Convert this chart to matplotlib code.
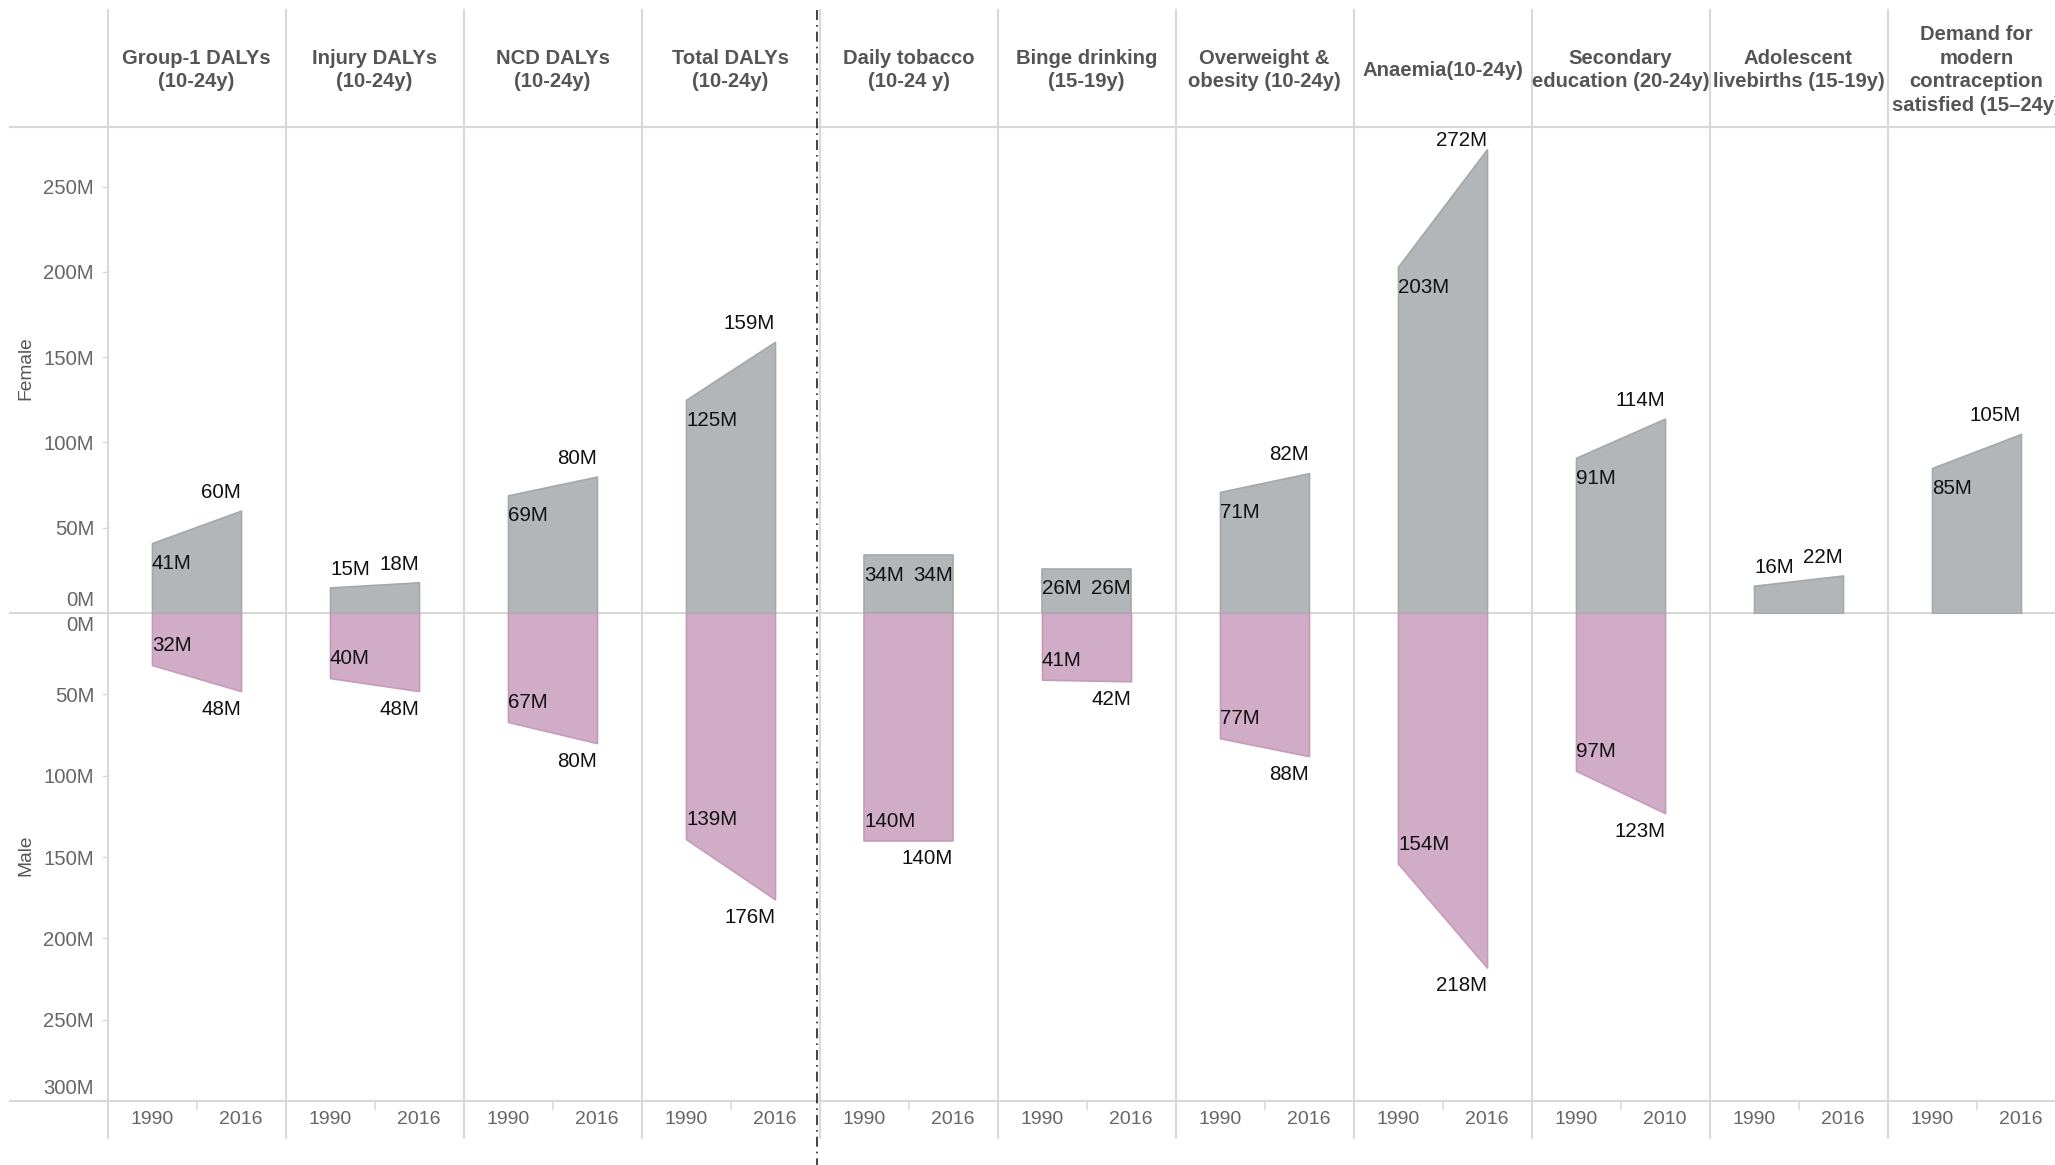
import matplotlib
matplotlib.use("Agg")
import matplotlib.pyplot as plt
from matplotlib.lines import Line2D
from matplotlib.transforms import blended_transform_factory

plt.rcParams['font.family'] = ['Liberation Sans', 'DejaVu Sans']

# ---- data (millions) ----
categories = [
    "Group-1 DALYs\n(10-24y)",
    "Injury DALYs\n(10-24y)",
    "NCD DALYs\n(10-24y)",
    "Total DALYs\n(10-24y)",
    "Daily tobacco\n(10-24 y)",
    "Binge drinking\n(15-19y)",
    "Overweight &\nobesity (10-24y)",
    "Anaemia(10-24y)",
    "Secondary\neducation (20-24y)",
    "Adolescent\nlivebirths (15-19y)",
    "Demand for\nmodern\ncontraception\nsatisfied (15\u201324y)",
]
start_years = ["1990"] * 11
end_years = ["2016", "2016", "2016", "2016", "2016", "2016", "2016", "2016", "2010", "2016", "2016"]

female_start = [41, 15, 69, 125, 34, 26, 71, 203, 91, 16, 85]
female_end = [60, 18, 80, 159, 34, 26, 82, 272, 114, 22, 105]
male_start = [32, 40, 67, 139, 140, 41, 77, 154, 97, None, None]
male_end = [48, 48, 80, 176, 140, 42, 88, 218, 123, None, None]

# where each value label sits relative to its area: inside or outside
female_start_place = ["in", "out", "in", "in", "in", "in", "in", "in", "in", "out", "in"]
female_end_place = ["out", "out", "out", "out", "in", "in", "out", "out", "out", "out", "out"]

# ---- layout (pixels) ----
W, H = 2055, 1165
DPI = 100
left_px, col_px = 107.5, 178.0
head_top, head_bot, zero_y, bot_y = 10, 127, 613, 1101
F_MAX, M_MAX = 285, 300

FEMALE_FILL, FEMALE_EDGE = "#b2b6b9", "#a3a8ab"
MALE_FILL, MALE_EDGE = "#d1acc7", "#c59bbb"
GRID = "#d9d9d9"
AX_TXT = "#666666"
HEAD_TXT = "#555555"
FS = 14
FS_LAB = 14.8
FS_HEAD = 14.6
FS_TICK = 14.6

fig = plt.figure(figsize=(W / DPI, H / DPI), dpi=DPI)
n = len(categories)
width_px = n * col_px

def fy(px):
    return 1 - px / H

ax_f = fig.add_axes([left_px / W, fy(zero_y), width_px / W, (zero_y - head_bot) / H])
ax_m = fig.add_axes([left_px / W, fy(bot_y), width_px / W, (bot_y - zero_y) / H])

for ax in (ax_f, ax_m):
    ax.set_xlim(-0.5, 2 * n - 0.5)
    for s in ax.spines.values():
        s.set_visible(False)
    ax.set_xticks([])
    ax.patch.set_alpha(0)
ax_f.set_ylim(0, F_MAX)
ax_m.set_ylim(M_MAX, 0)

ppu_f = (zero_y - head_bot) / F_MAX
ppu_m = (bot_y - zero_y) / M_MAX

# ---- areas ----
for i in range(n):
    xs = [2 * i, 2 * i + 1]
    ax_f.fill_between(xs, [0, 0], [female_start[i], female_end[i]],
                      facecolor=FEMALE_FILL, edgecolor=FEMALE_EDGE, linewidth=1.2, zorder=2)
    if male_start[i] is not None:
        ax_m.fill_between(xs, [0, 0], [male_start[i], male_end[i]],
                          facecolor=MALE_FILL, edgecolor=MALE_EDGE, linewidth=1.2, zorder=2)

# ---- value labels ----
def lab(v):
    return f"{v}M"

for i in range(n):
    x0, x1 = 2 * i, 2 * i + 1
    v0, v1 = female_start[i], female_end[i]
    y0 = v0 - 18.3 / ppu_f if female_start_place[i] == "in" else v0 + 20.3 / ppu_f
    y1 = v1 - 18.3 / ppu_f if female_end_place[i] == "in" else v1 + 20.3 / ppu_f
    y0 = min(y0, F_MAX - 12 / ppu_f)
    y1 = min(y1, F_MAX - 12 / ppu_f)
    ax_f.text(x0, y0, lab(v0), ha="left", va="center_baseline", fontsize=FS_LAB, color="#111111", zorder=3)
    ax_f.text(x1, y1, lab(v1), ha="right", va="center_baseline", fontsize=FS_LAB, color="#111111", zorder=3)
    if male_start[i] is not None:
        m0, m1 = male_start[i], male_end[i]
        ax_m.text(x0, m0 - 21.4 / ppu_m, lab(m0), ha="left", va="center_baseline",
                  fontsize=FS_LAB, color="#111111", zorder=3)
        ax_m.text(x1, m1 + 16.2 / ppu_m, lab(m1), ha="right", va="center_baseline",
                  fontsize=FS_LAB, color="#111111", zorder=3)

# ---- y axes ----
f_ticks = [0, 50, 100, 150, 200, 250]
m_ticks = [0, 50, 100, 150, 200, 250, 300]
for ax, ticks in ((ax_f, f_ticks), (ax_m, m_ticks)):
    ax.set_yticks(ticks)
    ax.set_yticklabels([])
    ax.tick_params(axis="y", length=6 * 0.72, width=1, color=GRID)

def ytick_label(ax, v, va, dy):
    ax.annotate(lab(v), xy=(0, v), xycoords=("axes fraction", "data"),
                xytext=(-13.5 * 0.72, dy * 0.72), textcoords="offset points",
                ha="right", va=va, fontsize=FS_TICK, color=AX_TXT)

for v in f_ticks:
    if v == 0:
        ytick_label(ax_f, v, "bottom", 3)
    else:
        ytick_label(ax_f, v, "center_baseline", 0)
for v in m_ticks:
    if v == 0:
        ytick_label(ax_m, v, "top", -3)
    elif v == 300:
        ytick_label(ax_m, v, "bottom", 3)
    else:
        ytick_label(ax_m, v, "center_baseline", 0)

fig.text(26 / W, fy(368), "Female", rotation=90, ha="center", va="center", fontsize=13.8, color=HEAD_TXT)
fig.text(26 / W, fy(855), "Male", rotation=90, ha="center", va="center", fontsize=13.8, color=HEAD_TXT)

# ---- grid lines ----
for ypx in (head_bot, zero_y, bot_y):
    fig.add_artist(Line2D([10 / W, 1.0], [fy(ypx), fy(ypx)], transform=fig.transFigure,
                          color=GRID, linewidth=1.5, zorder=0))
bt = blended_transform_factory(ax_f.transData, fig.transFigure)
for i in range(n):
    xd = 2 * i - 0.5
    fig.add_artist(Line2D([xd, xd], [fy(head_top), fy(1138)], transform=bt,
                          color=GRID, linewidth=1.5, zorder=0))
    # small tick between the two years
    fig.add_artist(Line2D([2 * i + 0.5] * 2, [fy(bot_y), fy(bot_y + 8)], transform=bt,
                          color=GRID, linewidth=1.2, zorder=0))

# divider between burden measures and risk factors
xdiv = 7.5 - 2.5 / col_px * 2
fig.add_artist(Line2D([xdiv, xdiv], [fy(head_top), 0.0], transform=bt,
                      color="#222222", linewidth=1.2, linestyle=(0, (6, 3, 1, 3)), zorder=4))

# ---- column headers & year labels ----
for i, name in enumerate(categories):
    fig.text(2 * i + 0.5, fy(70), name, transform=bt, ha="center", va="center",
             fontsize=FS_HEAD, fontweight="bold", color=HEAD_TXT, linespacing=1.3)
    for j, yr in enumerate((start_years[i], end_years[i])):
        fig.text(2 * i + j, fy(1118), yr, transform=bt, ha="center", va="center_baseline",
                 fontsize=FS, color=AX_TXT)

fig.savefig("out.png", dpi=DPI)
